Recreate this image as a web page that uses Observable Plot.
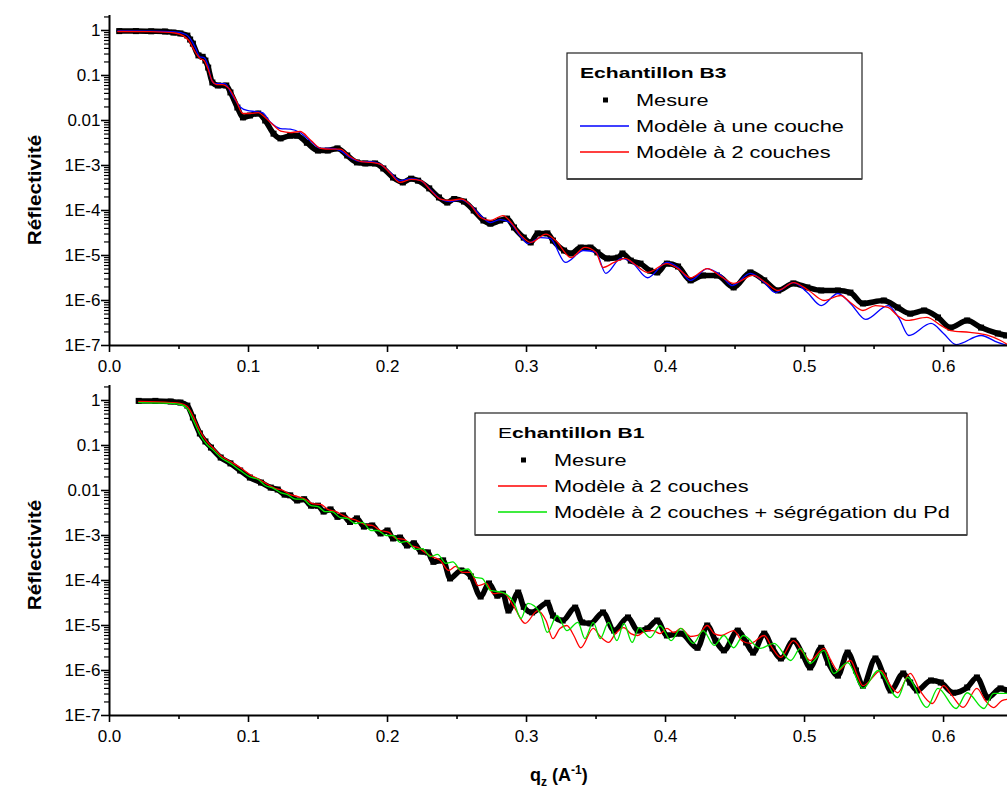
<!DOCTYPE html>
<html><head><meta charset="utf-8">
<script src="https://cdn.jsdelivr.net/npm/d3@7"></script>
<script src="https://cdn.jsdelivr.net/npm/@observablehq/plot@0.6"></script>
<style>
body{margin:0;background:#fff;font-family:"Liberation Sans",Arial,sans-serif;}
#chart{position:relative;width:1007px;height:789px;overflow:hidden}
#chart svg{display:block}
</style></head><body><div id="chart"></div>
<script>
// ---------- axis ticks ----------
const xTicks = [0, 0.1, 0.2, 0.3, 0.4, 0.5, 0.6];
const xMinorTicks = [0.05, 0.15, 0.25, 0.35, 0.45, 0.55];
const yTicks = [1e-7, 1e-6, 1e-5, 1e-4, 1e-3, 0.01, 0.1, 1];
const yTickLabels = ["1E-7", "1E-6", "1E-5", "1E-4", "1E-3", "0.01", "0.1", "1"];

// ---------- Echantillon B3 (top) ----------
const b3MesureQ = [0.007,0.019,0.030,0.040,0.046,0.051,0.056,0.058,0.060,0.064,0.067,0.069,0.071,0.074,0.078,0.084,0.087,0.092,0.096,0.101,0.107,0.112,0.118,0.123,0.130,0.135,0.142,0.150,0.157,0.164,0.171,0.178,0.184,0.191,0.197,0.204,0.211,0.217,0.222,0.230,0.237,0.243,0.248,0.255,0.262,0.269,0.274,0.281,0.286,0.291,0.298,0.303,0.308,0.315,0.319,0.327,0.332,0.339,0.346,0.351,0.358,0.366,0.369,0.375,0.382,0.389,0.394,0.401,0.409,0.418,0.427,0.437,0.449,0.461,0.471,0.481,0.492,0.502,0.512,0.524,0.533,0.542,0.557,0.567,0.576,0.586,0.596,0.605,0.617,0.627,0.639,0.645];
const b3MesureR = [0.97,0.97,0.96,0.95,0.90,0.86,0.77,0.63,0.51,0.28,0.26,0.215,0.15,0.070,0.060,0.060,0.042,0.0194,0.0117,0.0129,0.0143,0.0100,0.0051,0.0040,0.0046,0.0046,0.0032,0.00215,0.00215,0.0024,0.00167,0.00117,0.00111,0.00111,8.6e-4,5.4e-4,4.2e-4,5.1e-4,4.6e-4,3.1e-4,1.95e-4,1.5e-4,1.8e-4,1.58e-4,1.0e-4,6.0e-5,5.1e-5,6.0e-5,6.6e-5,4.2e-5,2.5e-5,1.95e-5,3.1e-5,3.1e-5,2.15e-5,1.29e-5,1.11e-5,1.5e-5,1.5e-5,1.17e-5,8.6e-6,9.0e-6,1.11e-5,7.7e-6,6.6e-6,4.6e-6,4.2e-6,6.6e-6,5.7e-6,2.8e-6,3.6e-6,3.6e-6,1.95e-6,4.2e-6,2.8e-6,1.67e-6,2.4e-6,1.95e-6,1.67e-6,1.67e-6,1.5e-6,8.6e-7,1.0e-6,7.0e-7,5.1e-7,6.0e-7,4.2e-7,2.5e-7,3.6e-7,2.5e-7,1.85e-7,1.67e-7];

const b3UneCoucheQ = [0.006,0.029,0.047,0.055,0.058,0.062,0.065,0.068,0.071,0.073,0.076,0.080,0.083,0.088,0.094,0.099,0.105,0.110,0.116,0.123,0.130,0.137,0.145,0.152,0.159,0.166,0.173,0.181,0.188,0.195,0.202,0.209,0.217,0.224,0.231,0.238,0.245,0.253,0.260,0.267,0.274,0.281,0.288,0.296,0.301,0.310,0.317,0.328,0.341,0.350,0.357,0.368,0.376,0.387,0.401,0.409,0.418,0.430,0.440,0.448,0.461,0.471,0.479,0.492,0.502,0.512,0.524,0.533,0.544,0.560,0.568,0.575,0.591,0.600,0.609,0.627,0.639,0.646];
const b3UneCoucheR = [0.98,0.97,0.93,0.815,0.66,0.40,0.26,0.25,0.158,0.086,0.066,0.066,0.066,0.038,0.020,0.0167,0.0158,0.0150,0.0090,0.0066,0.0064,0.0054,0.0034,0.0024,0.0024,0.00215,0.00151,0.00122,0.00122,0.00106,7.0e-4,4.6e-4,5.1e-4,4.6e-4,2.9e-4,1.8e-4,1.58e-4,1.75e-4,1.29e-4,7.7e-5,5.4e-5,6.3e-5,5.4e-5,2.6e-5,1.85e-5,2.5e-5,2.4e-5,7.0e-6,1.29e-5,1.17e-5,4.0e-6,8.6e-6,7.0e-6,3.2e-6,7.0e-6,5.4e-6,2.8e-6,5.1e-6,3.6e-6,2.15e-6,4.0e-6,2.5e-6,1.5e-6,2.5e-6,1.5e-6,7.7e-7,1.43e-6,8.6e-7,3.8e-7,7.7e-7,4.0e-7,1.67e-7,3.1e-7,1.85e-7,1.05e-7,1.67e-7,1.17e-7,1.0e-7];

const b3DeuxCouchesQ = [0.006,0.029,0.047,0.053,0.057,0.062,0.065,0.068,0.071,0.074,0.077,0.081,0.086,0.091,0.096,0.101,0.107,0.112,0.118,0.124,0.130,0.137,0.145,0.152,0.159,0.166,0.173,0.181,0.188,0.195,0.202,0.209,0.217,0.224,0.231,0.238,0.245,0.253,0.260,0.267,0.274,0.283,0.290,0.296,0.303,0.314,0.321,0.332,0.342,0.350,0.355,0.363,0.371,0.378,0.387,0.401,0.409,0.418,0.430,0.440,0.449,0.463,0.472,0.481,0.492,0.503,0.514,0.526,0.533,0.542,0.551,0.560,0.567,0.574,0.588,0.598,0.605,0.619,0.632,0.641,0.646];
const b3DeuxCouchesR = [0.95,0.94,0.88,0.77,0.60,0.32,0.24,0.215,0.136,0.074,0.063,0.063,0.051,0.028,0.0143,0.0143,0.0150,0.0116,0.0078,0.0057,0.0054,0.0057,0.0036,0.0024,0.0023,0.0023,0.00158,0.00122,0.00117,0.00106,6.7e-4,4.2e-4,4.9e-4,4.6e-4,2.8e-4,1.8e-4,1.67e-4,1.8e-4,1.29e-4,7.0e-5,6.0e-5,7.7e-5,4.9e-5,2.8e-5,1.95e-5,3.0e-5,2.15e-5,9.0e-6,1.51e-5,1.17e-5,5.4e-6,7.0e-6,8.6e-6,6.3e-6,4.2e-6,6.6e-6,5.1e-6,3.2e-6,5.1e-6,3.4e-6,2.4e-6,3.6e-6,2.5e-6,1.67e-6,2.5e-6,1.67e-6,1.0e-6,1.29e-6,9.0e-7,6.0e-7,7.7e-7,7.0e-7,4.6e-7,3.6e-7,4.2e-7,2.8e-7,2.15e-7,1.95e-7,1.67e-7,1.29e-7,1.05e-7];

// ---------- Echantillon B1 (bottom) ----------
const b1MesureQ = [0.021,0.033,0.044,0.051,0.056,0.060,0.065,0.069,0.073,0.080,0.087,0.094,0.101,0.109,0.116,0.121,0.126,0.130,0.135,0.140,0.145,0.150,0.154,0.159,0.164,0.168,0.173,0.178,0.183,0.189,0.195,0.200,0.204,0.209,0.214,0.219,0.224,0.229,0.233,0.240,0.245,0.253,0.260,0.267,0.273,0.279,0.283,0.287,0.294,0.298,0.304,0.315,0.319,0.326,0.335,0.340,0.346,0.355,0.363,0.373,0.380,0.387,0.394,0.401,0.411,0.423,0.430,0.436,0.442,0.452,0.458,0.463,0.471,0.477,0.483,0.492,0.499,0.504,0.512,0.517,0.524,0.531,0.537,0.542,0.551,0.557,0.562,0.571,0.576,0.581,0.591,0.598,0.607,0.617,0.624,0.632,0.641,0.646];
const b1MesureR = [0.98,0.98,0.95,0.90,0.77,0.42,0.185,0.123,0.090,0.054,0.040,0.0278,0.0194,0.0150,0.0116,0.0105,0.0081,0.0078,0.0060,0.0064,0.0046,0.0046,0.0034,0.0038,0.0026,0.0028,0.0020,0.0024,0.00158,0.00167,0.00111,0.00129,8.6e-4,9.0e-4,6.0e-4,6.7e-4,4.4e-4,4.2e-4,2.6e-4,2.8e-4,1.11e-4,1.67e-4,1.23e-4,4.4e-5,8.6e-5,4.6e-5,5.1e-5,2.15e-5,5.4e-5,2.6e-5,1.95e-5,3.2e-5,1.67e-5,1.29e-5,2.5e-5,1.17e-5,1.11e-5,1.95e-5,7.7e-6,1.51e-5,7.7e-6,8.6e-6,1.29e-5,6.0e-6,6.6e-6,3.2e-6,1.0e-5,4.6e-6,2.8e-6,7.7e-6,4.2e-6,2.5e-6,6.6e-6,3.1e-6,1.85e-6,4.6e-6,2.15e-6,1.17e-6,3.2e-6,1.5e-6,7.7e-7,2.5e-6,1.0e-6,4.6e-7,1.85e-6,7.7e-7,3.6e-7,8.6e-7,5.4e-7,3.6e-7,6.0e-7,5.4e-7,3.2e-7,4.2e-7,7.0e-7,2.5e-7,4.0e-7,3.6e-7];

const b1DeuxCouchesQ = [0.021,0.044,0.051,0.056,0.060,0.065,0.070,0.075,0.080,0.087,0.094,0.101,0.109,0.114,0.119,0.125,0.130,0.135,0.141,0.146,0.152,0.157,0.163,0.168,0.173,0.178,0.184,0.189,0.195,0.201,0.206,0.212,0.217,0.222,0.227,0.232,0.238,0.244,0.249,0.254,0.260,0.265,0.271,0.276,0.283,0.291,0.299,0.308,0.314,0.319,0.324,0.329,0.334,0.339,0.348,0.353,0.359,0.364,0.370,0.375,0.380,0.386,0.391,0.396,0.401,0.406,0.411,0.418,0.423,0.430,0.435,0.440,0.449,0.455,0.461,0.471,0.477,0.483,0.492,0.499,0.504,0.514,0.519,0.524,0.533,0.538,0.542,0.555,0.562,0.567,0.576,0.583,0.592,0.600,0.606,0.614,0.624,0.630,0.636,0.642,0.646];
const b1DeuxCouchesR = [0.95,0.90,0.86,0.74,0.46,0.215,0.123,0.086,0.060,0.044,0.0324,0.0227,0.0167,0.0136,0.0111,0.0100,0.0081,0.0074,0.0064,0.0051,0.0049,0.0038,0.0034,0.0028,0.0024,0.00215,0.00175,0.00167,0.00129,0.00117,8.6e-4,8.2e-4,6.0e-4,5.4e-4,4.2e-4,3.4e-4,2.8e-4,1.67e-4,2.05e-4,1.51e-4,1.51e-4,7.7e-5,8.6e-5,5.1e-5,5.4e-5,2.6e-5,1.11e-5,2.15e-5,1.29e-5,5.1e-6,8.6e-6,1.0e-5,6.0e-6,3.2e-6,8.6e-6,5.7e-6,4.2e-6,6.6e-6,9.0e-6,6.6e-6,6.0e-6,7.7e-6,7.7e-6,6.6e-6,8.6e-6,7.0e-6,8.6e-6,5.7e-6,6.0e-6,1.0e-5,6.6e-6,6.0e-6,7.7e-6,4.6e-6,4.0e-6,6.0e-6,3.1e-6,1.95e-6,4.6e-6,2.5e-6,1.67e-6,3.1e-6,1.67e-6,1.0e-6,1.67e-6,7.7e-7,4.6e-7,1.0e-6,4.6e-7,3.2e-7,8.6e-7,3.6e-7,1.85e-7,4.6e-7,2.8e-7,1.51e-7,4.0e-7,2.15e-7,1.5e-7,2.15e-7,2.3e-7];

const b1SegregationQ = [0.021,0.044,0.051,0.056,0.060,0.065,0.070,0.075,0.080,0.087,0.094,0.101,0.107,0.112,0.117,0.123,0.128,0.134,0.139,0.145,0.150,0.155,0.160,0.166,0.171,0.177,0.182,0.188,0.193,0.199,0.204,0.209,0.214,0.220,0.225,0.231,0.236,0.242,0.247,0.253,0.258,0.263,0.268,0.274,0.283,0.291,0.296,0.301,0.310,0.315,0.322,0.329,0.337,0.342,0.348,0.353,0.359,0.365,0.370,0.376,0.381,0.389,0.396,0.404,0.411,0.420,0.427,0.435,0.442,0.449,0.456,0.468,0.478,0.490,0.497,0.504,0.514,0.521,0.531,0.542,0.553,0.567,0.574,0.588,0.596,0.609,0.617,0.629,0.636,0.646];
const b1SegregationR = [0.90,0.86,0.815,0.66,0.38,0.176,0.105,0.077,0.054,0.040,0.028,0.020,0.0176,0.0129,0.0116,0.0090,0.0081,0.0064,0.0064,0.0046,0.0044,0.0034,0.0034,0.0025,0.0024,0.00185,0.00195,0.00129,0.00129,0.00100,0.00100,7.0e-4,7.4e-4,4.9e-4,5.1e-4,3.4e-4,3.8e-4,2.4e-4,2.6e-4,1.67e-4,1.8e-4,1.17e-4,1.11e-4,6.0e-5,5.4e-5,3.2e-5,1.43e-5,3.1e-5,1.85e-5,7.0e-6,1.67e-5,7.7e-6,1.17e-5,5.1e-6,1.17e-5,5.1e-6,1.17e-5,4.6e-6,1.11e-5,4.2e-6,9.0e-6,5.4e-6,1.0e-5,4.6e-6,8.6e-6,4.0e-6,7.7e-6,3.6e-6,6.0e-6,3.2e-6,6.0e-6,3.1e-6,4.0e-6,1.67e-6,3.1e-6,1.43e-6,2.8e-6,8.6e-7,1.5e-6,4.0e-7,1.0e-6,2.5e-7,7.0e-7,1.51e-7,4.0e-7,1.43e-7,3.2e-7,1.43e-7,3.1e-7,3.1e-7];

// ---------- helpers ----------
const FONT = '"Liberation Sans", Arial, sans-serif';
const zip = (qs, rs) => qs.map((q, i) => ({q, r: rs[i]}));
const yMinorTicks = [];
for (let k = -7; k <= 0; k++) for (let m = 2; m <= 9; m++) { const v = m * Math.pow(10, k); if (v <= 2.154) yMinorTicks.push(v); }

function panel(height, marginBottom, layers) {
  return Plot.plot({
    width: 1007, height, marginLeft: 109, marginRight: 0, marginTop: 15, marginBottom,
    x: {domain: [0, 0.646]},
    y: {type: "log", domain: [1e-7, 2.154]},
    style: {fontFamily: FONT, fontSize: "17px", color: "#000", background: "transparent", overflow: "visible"},
    marks: [
      ...layers,
      Plot.axisX({ticks: xTicks, tickSize: 7, tickPadding: 7, strokeWidth: 1.6, tickFormat: d => d.toFixed(1), label: null}),
      Plot.axisX({ticks: xMinorTicks, tickSize: 4, strokeWidth: 1.6, fill: "none", label: null}),
      Plot.axisY({ticks: yTicks, tickSize: 8, tickPadding: 1, strokeWidth: 1.6, tickFormat: d => yTickLabels[yTicks.indexOf(d)], label: null}),
      Plot.axisY({ticks: yMinorTicks, tickSize: 5, strokeWidth: 1.2, fill: "none", label: null}),
      Plot.ruleX([0], {strokeWidth: 2}),
      Plot.ruleY([1e-7], {strokeWidth: 2})
    ]
  });
}
function measured(data) {
  return [
    Plot.line(data, {x: "q", y: "r", stroke: "#000", strokeWidth: 5.5, strokeLinejoin: "round", curve: "monotone-x", clip: true}),
    Plot.dot(data, {x: "q", y: "r", symbol: "square", r: 3.4, fill: "#000", clip: true})
  ];
}
function model(data, color) {
  return Plot.line(data, {x: "q", y: "r", stroke: color, strokeWidth: 1.3, curve: "monotone-x", clip: true});
}
function stretchedText(g, x, y, str, size, weight, sx) {
  return g.append("text").attr("transform", `translate(${x},${y}) scale(${sx},1)`).attr("text-anchor", "start")
    .attr("font-family", FONT).attr("font-size", size).attr("font-weight", weight || "normal").attr("fill", "#000").text(str);
}
function legend(svg, box, titleParts, items) {
  const g = d3.select(svg).append("g").attr("text-anchor", "start");
  g.append("rect").attr("x", box.x).attr("y", box.y).attr("width", box.w).attr("height", box.h)
    .attr("fill", "#fff").attr("stroke", "#222").attr("stroke-width", 1.2);
  g.append("line").attr("x1", box.x).attr("x2", box.x + box.w).attr("y1", box.y + box.h).attr("y2", box.y + box.h)
    .attr("stroke", "#444").attr("stroke-width", 2.2);
  const t = g.append("text").attr("transform", `translate(${box.x + box.tx},${box.y + 25}) scale(1.36,1)`)
    .attr("text-anchor", "start").attr("font-family", FONT).attr("font-size", 15.5).attr("fill", "#000");
  titleParts.forEach(p => t.append("tspan").attr("font-weight", p.bold ? "bold" : "normal").text(p.s));
  items.forEach((it, i) => {
    const cy = box.y + 47 + i * 26;
    if (it.type === "dot") {
      g.append("rect").attr("x", box.x + box.tx + 23).attr("y", cy - 2.5).attr("width", 5).attr("height", 5).attr("fill", "#000");
    } else {
      g.append("line").attr("x1", box.x + box.tx).attr("x2", box.x + box.tx + 49).attr("y1", cy).attr("y2", cy)
        .attr("stroke", it.color).attr("stroke-width", 1.3);
    }
    stretchedText(g, box.x + box.tx + 56, cy + 6, it.label, 16, "normal", 1.36);
  });
}
function yLabel(svg, cy) {
  d3.select(svg).append("text").attr("transform", `translate(41,${cy}) rotate(-90) scale(1.15,1)`)
    .attr("text-anchor", "middle").attr("font-family", FONT).attr("font-size", 18).attr("font-weight", "bold")
    .attr("fill", "#000").text("Réflectivité");
}

// ---------- build ----------
const topSvg = panel(370, 25, [
  ...measured(zip(b3MesureQ, b3MesureR)),
  model(zip(b3UneCoucheQ, b3UneCoucheR), "#0000ff"),
  model(zip(b3DeuxCouchesQ, b3DeuxCouchesR), "#ff0000")
]);
yLabel(topSvg, 190);
legend(topSvg, {x: 567, y: 53, w: 295, h: 126, tx: 13},
  [{s: "Echantillon B3", bold: true}],
  [{type: "dot", label: "Mesure"},
   {type: "line", color: "#0000ff", label: "Modèle à une couche"},
   {type: "line", color: "#ff0000", label: "Modèle à 2 couches"}]);

const bottomSvg = panel(419, 74, [
  ...measured(zip(b1MesureQ, b1MesureR)),
  model(zip(b1DeuxCouchesQ, b1DeuxCouchesR), "#ff0000"),
  model(zip(b1SegregationQ, b1SegregationR), "#00e600")
]);
yLabel(bottomSvg, 185);
legend(bottomSvg, {x: 475, y: 43, w: 492, h: 122, tx: 23},
  [{s: "E", bold: false}, {s: "chantillon B1", bold: true}],
  [{type: "dot", label: "Mesure"},
   {type: "line", color: "#ff0000", label: "Modèle à 2 couches"},
   {type: "line", color: "#00e600", label: "Modèle à 2 couches + ségrégation du Pd"}]);
// x axis title q_z (A^-1)
const xt = d3.select(bottomSvg).append("text").attr("x", 530).attr("y", 411).attr("text-anchor", "start")
  .attr("font-family", FONT).attr("font-size", 18).attr("font-weight", "bold").attr("fill", "#000");
xt.append("tspan").text("q");
xt.append("tspan").attr("font-size", 12).attr("dy", 5).text("z");
xt.append("tspan").attr("dy", -5).text(" (A");
xt.append("tspan").attr("font-size", 12).attr("dy", -7).text("-1");
xt.append("tspan").attr("dy", 7).text(")");

document.getElementById("chart").append(topSvg, bottomSvg);
</script></body></html>
